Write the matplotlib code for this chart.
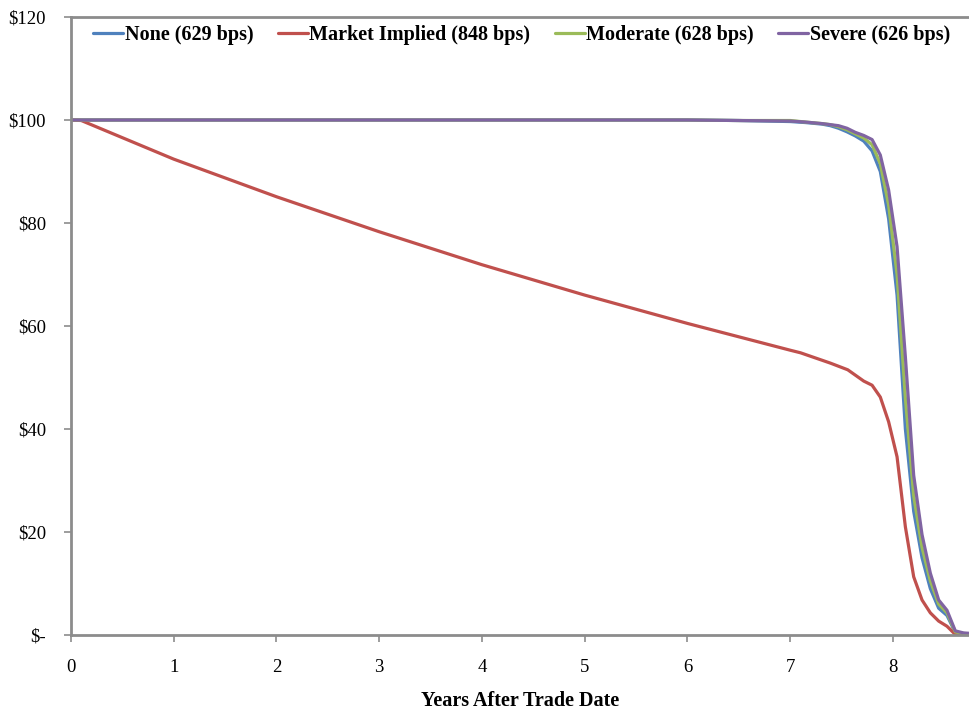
import matplotlib
matplotlib.use("Agg")
import matplotlib.pyplot as plt

plt.rcParams['font.family'] = ['Liberation Serif', 'DejaVu Serif']

# ---- data (years after trade date, price $) ----
series_names = ["None (629 bps)", "Market Implied (848 bps)", "Moderate (628 bps)", "Severe (626 bps)"]
series_colors = ["#4F81BD", "#C0504D", "#9BBB59", "#8064A2"]

none_t = [0.0, 1.0, 2.0, 3.0, 4.0, 5.0, 6.0, 6.5, 7.0, 7.15, 7.31, 7.39, 7.47, 7.553, 7.634, 7.716,
          7.797, 7.877, 7.958, 8.040, 8.121, 8.202, 8.283, 8.364, 8.445, 8.526, 8.607, 8.688, 8.77]
none_v = [100.0, 100.0, 100.0, 100.0, 100.0, 100.0, 100.0, 99.9, 99.7, 99.5, 99.2, 98.9, 98.4, 97.7, 96.9, 95.9,
          94.0, 90.0, 80.8, 66.0, 40.0, 24.0, 15.0, 9.0, 5.2, 3.8, 0.5, 0.2, 0.1]

mkt_t = [0.0, 0.1, 1.0, 2.0, 3.0, 4.0, 5.0, 6.0, 7.0, 7.10, 7.39, 7.56, 7.716,
         7.797, 7.877, 7.958, 8.040, 8.121, 8.202, 8.283, 8.364, 8.445, 8.526, 8.607, 8.688, 8.77]
mkt_v = [100.0, 99.9, 92.4, 85.1, 78.3, 71.9, 66.0, 60.5, 55.3, 54.8, 52.8, 51.5, 49.3,
         48.5, 46.2, 41.4, 34.6, 21.0, 11.3, 6.8, 4.3, 2.7, 1.7, 0.1, 0.0, 0.0]

mod_t = [0.0, 1.0, 2.0, 3.0, 4.0, 5.0, 6.0, 6.5, 7.0, 7.15, 7.31, 7.39, 7.47, 7.553, 7.634, 7.716,
         7.797, 7.877, 7.958, 8.040, 8.121, 8.202, 8.283, 8.364, 8.445, 8.526, 8.607, 8.688, 8.77]
mod_v = [100.0, 100.0, 100.0, 100.0, 100.0, 100.0, 100.0, 99.9, 99.9, 99.6, 99.3, 99.1, 98.7, 98.1, 97.3, 96.5,
         95.2, 91.5, 83.5, 70.0, 46.0, 27.0, 17.0, 10.5, 6.0, 4.3, 0.6, 0.3, 0.2]

sev_t = [0.0, 1.0, 2.0, 3.0, 4.0, 5.0, 6.0, 6.5, 7.0, 7.15, 7.31, 7.39, 7.47, 7.553, 7.634, 7.716,
         7.797, 7.877, 7.958, 8.040, 8.121, 8.202, 8.283, 8.364, 8.445, 8.526, 8.607, 8.688, 8.77]
sev_v = [100.0, 100.0, 100.0, 100.0, 100.0, 100.0, 100.0, 99.9, 99.8, 99.6, 99.3, 99.1, 98.9, 98.4, 97.6, 97.0,
         96.2, 93.2, 86.4, 75.4, 54.0, 31.0, 19.5, 12.0, 6.8, 4.8, 0.8, 0.4, 0.3]

x_ticks = [0, 1, 2, 3, 4, 5, 6, 7, 8]
y_ticks = [0, 20, 40, 60, 80, 100, 120]
y_tick_labels = ["$-", "$20", "$40", "$60", "$80", "$100", "$120"]
x_label = "Years After Trade Date"

# ---- figure ----
W, H = 970, 712
fig = plt.figure(figsize=(W / 100, H / 100), dpi=100)
ax = fig.add_axes([71 / W, (H - 635) / H, (970 - 71) / W, (635 - 17) / H])

for t, v, c, n in zip([none_t, mkt_t, mod_t, sev_t], [none_v, mkt_v, mod_v, sev_v],
                      series_colors, series_names):
    ax.plot(t, v, color=c, lw=2.3, label=n, solid_joinstyle='round', solid_capstyle='round')

ax.set_xlim(0, 8.75)
ax.set_ylim(0, 120)
ax.set_xticks(x_ticks)
ax.set_yticks(y_ticks)
ax.set_yticklabels(y_tick_labels)

grey = "#8C8C8C"
for s in ["left", "bottom", "top"]:
    ax.spines[s].set_color(grey)
    ax.spines[s].set_linewidth(2.0)
ax.spines["right"].set_visible(False)

ax.tick_params(axis="both", direction="out", color=grey, width=1.2, length=5,
               labelsize=13.5, labelcolor="black")
ax.tick_params(axis="y", pad=13)
ax.tick_params(axis="x", pad=12)
for lbl in ax.get_yticklabels():
    lbl.set_horizontalalignment("right")

ax.set_xlabel(x_label, fontsize=14.5, fontweight="bold", labelpad=11)

leg = ax.legend(loc="upper left", bbox_to_anchor=(0.011, 1.006), ncol=4, frameon=False,
                prop={"weight": "bold", "size": 14.5}, handlelength=1.5, handletextpad=0.08,
                columnspacing=1.2, borderaxespad=0.2)
for h in leg.legend_handles:
    h.set_linewidth(2.3)

fig.savefig("out.png", dpi=100)
